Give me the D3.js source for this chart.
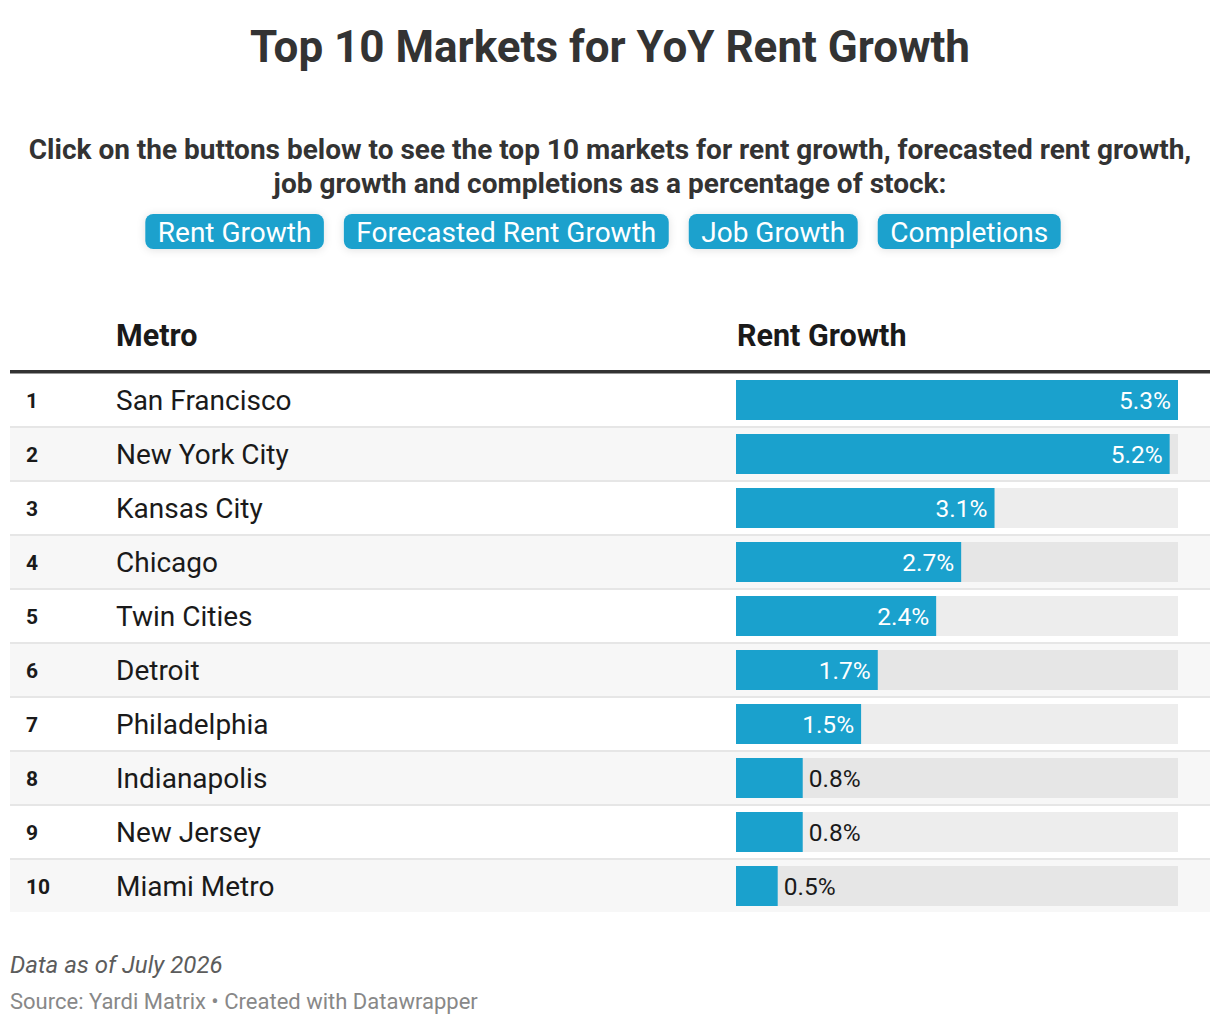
<!DOCTYPE html>
<html>
<head>
<meta charset="utf-8">
<script src="https://cdn.jsdelivr.net/npm/d3@7"></script>
<style>
  body { margin: 0; background: #fff; font-family: Roboto, "Noto Sans", sans-serif; }
  svg { display: block; }
</style>
</head>
<body>
<div id="chart"></div>
<script>
const ranks = [1, 2, 3, 4, 5, 6, 7, 8, 9, 10];
const metros = ['San Francisco', 'New York City', 'Kansas City', 'Chicago', 'Twin Cities',
  'Detroit', 'Philadelphia', 'Indianapolis', 'New Jersey', 'Miami Metro'];
const rentGrowth = [5.3, 5.2, 3.1, 2.7, 2.4, 1.7, 1.5, 0.8, 0.8, 0.5];
const buttonLabels = ['Rent Growth', 'Forecasted Rent Growth', 'Job Growth', 'Completions'];

const width = 1220, height = 1026;
const tableLeft = 10, tableRight = 1210;
const headerLine = 372;
const rowTop = 374, rowStep = 54, rowHeight = 52;
const barColor = '#1aa1cd';

const svg = d3.select('#chart')
  .append('svg')
  .attr('width', width)
  .attr('height', height);

const defs = svg.append('defs');
const shadow = defs.append('filter')
  .attr('id', 'shadow')
  .attr('x', '-20%').attr('y', '-40%')
  .attr('width', '140%').attr('height', '180%');
shadow.append('feDropShadow')
  .attr('dx', 0).attr('dy', 1)
  .attr('stdDeviation', 4)
  .attr('flood-color', '#000')
  .attr('flood-opacity', 0.12);

// title + description
svg.append('text')
  .attr('x', width / 2).attr('y', 62)
  .attr('text-anchor', 'middle')
  .style('font-size', '44px').style('font-weight', 700)
  .style('fill', '#333')
  .text('Top 10 Markets for YoY Rent Growth');

const desc = ['Click on the buttons below to see the top 10 markets for rent growth, forecasted rent growth,',
  'job growth and completions as a percentage of stock:'];
svg.selectAll('.desc')
  .data(desc)
  .enter()
  .append('text')
  .attr('class', 'desc')
  .attr('x', width / 2)
  .attr('y', (d, i) => 159 + i * 34)
  .attr('text-anchor', 'middle')
  .style('font-size', '28px').style('font-weight', 700)
  .style('fill', '#333')
  .text(d => d);

// buttons
const btnG = svg.append('g');
const btns = btnG.selectAll('g')
  .data(buttonLabels)
  .enter()
  .append('g');
btns.append('rect')
  .attr('rx', 8).attr('ry', 8)
  .attr('fill', barColor)
  .attr('filter', 'url(#shadow)');
btns.append('text')
  .attr('y', 242)
  .style('font-size', '28px')
  .style('fill', '#fff')
  .text(d => d);

const pad = 12.5, gap = 20;
const widths = [];
btns.select('text').each(function () { widths.push(this.getComputedTextLength() + pad * 2); });
const total = d3.sum(widths) + gap * (widths.length - 1);
let bx = 603 - total / 2;
btns.each(function (d, i) {
  const g = d3.select(this);
  g.select('rect').attr('x', bx).attr('y', 214).attr('width', widths[i]).attr('height', 35);
  g.select('text').attr('x', bx + pad);
  bx += widths[i] + gap;
});

// table header
svg.append('text')
  .attr('x', 116).attr('y', 346)
  .style('font-size', '30.5px').style('font-weight', 700)
  .style('fill', '#1a1a1a')
  .text('Metro');
svg.append('text')
  .attr('x', 737).attr('y', 346)
  .style('font-size', '30.5px').style('font-weight', 700)
  .style('fill', '#1a1a1a')
  .text('Rent Growth');

const x = d3.scaleLinear()
  .domain([0, d3.max(rentGrowth)])
  .range([736, 1178]);

const y = d3.scaleBand()
  .domain(ranks)
  .range([rowTop, rowTop + rowStep * ranks.length])
  .paddingInner(0);

const rows = svg.selectAll('.row')
  .data(ranks)
  .enter()
  .append('g')
  .attr('class', 'row')
  .attr('transform', d => `translate(0, ${y(d)})`);

rows.append('rect')
  .attr('x', tableLeft).attr('width', tableRight - tableLeft)
  .attr('y', 0).attr('height', rowHeight)
  .attr('fill', (d, i) => i % 2 ? '#f7f7f7' : '#fff');

rows.filter((d, i) => i < ranks.length - 1)
  .append('rect')
  .attr('x', tableLeft).attr('width', tableRight - tableLeft)
  .attr('y', rowHeight).attr('height', 2)
  .attr('fill', '#e6e6e6');

rows.append('text')
  .attr('x', 26).attr('y', 34)
  .style('font-size', '21px').style('font-weight', 700)
  .style('fill', '#1a1a1a')
  .text(d => d);

rows.append('text')
  .attr('x', 116).attr('y', 36)
  .style('font-size', '28px')
  .style('fill', '#1a1a1a')
  .text((d, i) => metros[i]);

// track + bar
rows.append('rect')
  .attr('x', x(0)).attr('y', 6)
  .attr('width', x.range()[1] - x(0)).attr('height', 40)
  .attr('fill', (d, i) => i % 2 ? '#e6e6e6' : '#ededed');

rows.append('rect')
  .attr('x', x(0)).attr('y', 6)
  .attr('width', (d, i) => x(rentGrowth[i]) - x(0)).attr('height', 40)
  .attr('fill', barColor);

rows.append('text')
  .attr('x', (d, i) => rentGrowth[i] >= 1.5 ? x(rentGrowth[i]) - 7 : x(rentGrowth[i]) + 6)
  .attr('y', 34.5)
  .attr('text-anchor', (d, i) => rentGrowth[i] >= 1.5 ? 'end' : 'start')
  .style('font-size', '24.5px')
  .style('fill', (d, i) => rentGrowth[i] >= 1.5 ? '#fff' : '#1a1a1a')
  .text((d, i) => `${rentGrowth[i].toFixed(1)}%`);

// header rule
svg.append('rect')
  .attr('x', tableLeft).attr('width', tableRight - tableLeft)
  .attr('y', headerLine - 2).attr('height', 3.5)
  .attr('fill', '#333');

// footer
svg.append('text')
  .attr('x', 10).attr('y', 973)
  .style('font-size', '24px').style('font-style', 'italic')
  .style('fill', '#5c5c5c')
  .text('Data as of July 2026');
svg.append('text')
  .attr('x', 10).attr('y', 1009)
  .style('font-size', '22px')
  .style('fill', '#888')
  .text('Source: Yardi Matrix \u2022 Created with Datawrapper');
</script>
</body>
</html>
